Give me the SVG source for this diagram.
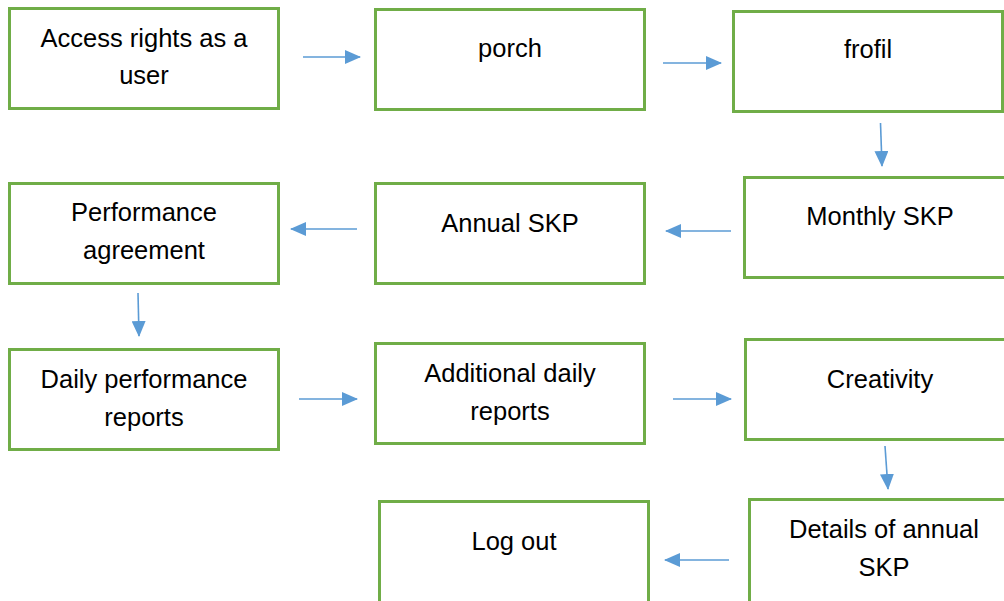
<svg xmlns="http://www.w3.org/2000/svg" width="1004" height="601" viewBox="0 0 1004 601">
<style>
.box{fill:#fff;stroke:#70AD47;stroke-width:3}
.t{font-family:"Liberation Sans",Arial,sans-serif;font-size:25.5px;fill:#000;text-anchor:middle}
.c{stroke:#5B9BD5;stroke-width:1.6;fill:none;marker-end:url(#ah)}
</style>
<defs>
<marker id="ah" markerUnits="userSpaceOnUse" markerWidth="16" markerHeight="14" refX="15" refY="7" orient="auto">
<path d="M0,0 L16,7 L0,14 Z" fill="#5B9BD5"/>
</marker>
</defs>
<rect width="1004" height="601" fill="#fff"/>
<g id="n1"><rect class="box" x="9.5" y="8.5" width="269" height="100"/><text class="t" x="144" y="47">Access rights as a</text><text class="t" x="144" y="84">user</text></g>
<g id="n2"><rect class="box" x="375.5" y="9.5" width="269" height="100"/><text class="t" x="510" y="57">porch</text></g>
<g id="n3"><rect class="box" x="733.5" y="11.5" width="269" height="100"/><text class="t" x="868" y="58">frofil</text></g>
<g id="n4"><rect class="box" x="744.5" y="177.5" width="262" height="100"/><text class="t" x="880" y="225">Monthly SKP</text></g>
<g id="n5"><rect class="box" x="375.5" y="183.5" width="269" height="100"/><text class="t" x="510" y="232">Annual SKP</text></g>
<g id="n6"><rect class="box" x="9.5" y="183.5" width="269" height="100"/><text class="t" x="144" y="221">Performance</text><text class="t" x="144" y="259">agreement</text></g>
<g id="n7"><rect class="box" x="9.5" y="349.5" width="269" height="100"/><text class="t" x="144" y="388">Daily performance</text><text class="t" x="144" y="426">reports</text></g>
<g id="n8"><rect class="box" x="375.5" y="343.5" width="269" height="100"/><text class="t" x="510" y="382">Additional daily</text><text class="t" x="510" y="420">reports</text></g>
<g id="n9"><rect class="box" x="745.5" y="339.5" width="262" height="100"/><text class="t" x="880" y="388">Creativity</text></g>
<g id="n10"><rect class="box" x="749.5" y="499.5" width="258" height="104"/><text class="t" x="884" y="538">Details of annual</text><text class="t" x="884" y="576">SKP</text></g>
<g id="n11"><rect class="box" x="379.5" y="501.5" width="269" height="104"/><text class="t" x="514" y="550">Log out</text></g>
<g id="connectors">
<line class="c" x1="303" y1="57" x2="360" y2="57"/>
<line class="c" x1="663" y1="63" x2="721" y2="63"/>
<line class="c" x1="880.5" y1="123" x2="882" y2="166"/>
<line class="c" x1="731" y1="231" x2="666" y2="231"/>
<line class="c" x1="357" y1="229" x2="291" y2="229"/>
<line class="c" x1="138" y1="293" x2="139" y2="336"/>
<line class="c" x1="299" y1="399" x2="357" y2="399"/>
<line class="c" x1="673" y1="399" x2="731" y2="399"/>
<line class="c" x1="885" y1="446" x2="888" y2="489"/>
<line class="c" x1="729" y1="560" x2="665" y2="560"/>
</g>
</svg>
